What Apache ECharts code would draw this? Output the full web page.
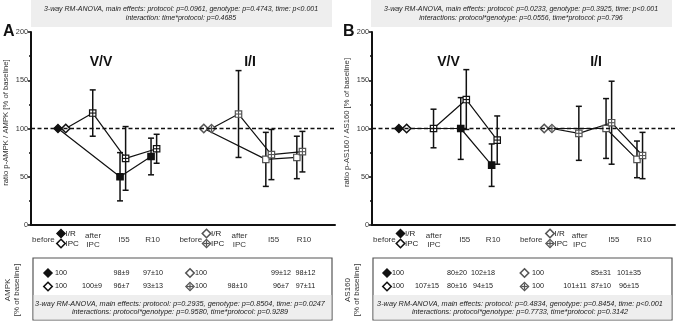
<!DOCTYPE html>
<html>
<head>
<meta charset="utf-8">
<script src="https://cdn.jsdelivr.net/npm/echarts@6/dist/echarts.min.js"></script>
<style>
  html, body { margin: 0; padding: 0; background: #fff; }
  #main { width: 677px; height: 322px; }
</style>
</head>
<body>
<div id="main"></div>
<script>
// x positions (value axis units) of the time points, I/R and IPC slightly shifted
var irPos = [0.87, null, 2.87, 3.87];
var ipcPos = [1.12, 1.99, 3.05, 4.05];
var genoShift = [0, 4.7]; // V/V, I/I

var tickPos = [0.4, 2, 3, 3.92, 5.15, 6.72, 7.82, 8.8];
var tickText = ['before', 'after\nIPC', 'I55', 'R10', 'before', 'after\nIPC', 'I55', 'R10'];

// panel A: ratio p-AMPK / AMPK
var aVvIr = [100, null, 50, 71];
var aVvIrErr = [0, null, 25, 19];
var aVvIpc = [100, 116, 69, 79];
var aVvIpcErr = [0, 24, 33, 15];
var aIiIr = [100, null, 68, 70];
var aIiIrErr = [0, null, 28, 22];
var aIiIpc = [100, 115, 73, 76];
var aIiIpcErr = [0, 45, 26, 21];

// panel B: ratio p-AS160 / AS160
var bVvIr = [100, null, 100, 62];
var bVvIrErr = [0, null, 32, 22];
var bVvIpc = [100, 100, 130, 88];
var bVvIpcErr = [0, 20, 31, 25];
var bIiIr = [100, null, 100, 68];
var bIiIrErr = [0, null, 31, 19];
var bIiIpc = [100, 95, 106, 72];
var bIiIpcErr = [0, 28, 43, 24];

// tables (total protein, % of baseline)
var tblA = [
  ['100', '', '98±9', '97±10'],
  ['100', '100±9', '96±7', '93±13'],
  ['100', '', '99±12', '98±12'],
  ['100', '98±10', '96±7', '97±11']
];
var tblB = [
  ['100', '', '80±20', '102±18'],
  ['100', '107±15', '80±16', '94±15'],
  ['100', '', '85±31', '101±35'],
  ['100', '101±11', '87±10', '96±15']
];

var statTopA = ['3-way RM-ANOVA, main effects: protocol: p=0.0961, genotype: p=0.4743, time: p<0.001',
  'interaction: time*protocol: p=0.4685'];
var statTopB = ['3-way RM-ANOVA, main effects: protocol: p=0.0233, genotype: p=0.3925, time: p<0.001',
  'interactions: protocol*genotype: p=0.0556, time*protocol: p=0.796'];
var statBotA = ['3-way RM-ANOVA, main effects: protocol: p=0.2935, genotype: p=0.8504, time: p=0.0247',
  'interactions: protocol*genotype: p=0.9580, time*protocol: p=0.9289'];
var statBotB = ['3-way RM-ANOVA, main effects: protocol: p=0.4834, genotype: p=0.8454, time: p<0.001',
  'interactions: protocol*genotype: p=0.7733, time*protocol: p=0.3142'];

var FONT = '"Liberation Sans", Arial, sans-serif';
var chart = echarts.init(document.getElementById('main'));

// draw one marker shape at p
function marker(kind, p, col) {
  var x = p[0], y = p[1], out = [];
  var r = 3.2, d = 4.2;
  if (kind == 'fd' || kind == 'od' || kind == 'pd') {
    out.push({ type: 'polygon', shape: { points: [[x, y - d], [x + d, y], [x, y + d], [x - d, y]] },
      style: { fill: kind == 'fd' ? col : '#fff', stroke: col, lineWidth: kind == 'od' ? 1.6 : 1.2 } });
    if (kind == 'pd') {
      out.push({ type: 'line', shape: { x1: x - d + 1, y1: y, x2: x + d - 1, y2: y }, style: { stroke: col, lineWidth: 1.2 } });
      out.push({ type: 'line', shape: { x1: x, y1: y - d + 1, x2: x, y2: y + d - 1 }, style: { stroke: col, lineWidth: 1.2 } });
    }
  } else {
    out.push({ type: 'rect', shape: { x: x - r, y: y - r, width: 2 * r, height: 2 * r },
      style: { fill: kind == 'fs' ? col : '#fff', stroke: col, lineWidth: 1.2 } });
    if (kind == 'ps') {
      out.push({ type: 'line', shape: { x1: x - r, y1: y, x2: x + r, y2: y }, style: { stroke: col, lineWidth: 1.1 } });
      out.push({ type: 'line', shape: { x1: x, y1: y - r, x2: x, y2: y + r }, style: { stroke: col, lineWidth: 1.1 } });
    }
  }
  return out;
}

function pts(pos, shift, vals, errs) {
  var res = [];
  for (var i = 0; i < vals.length; i++) {
    if (vals[i] == null) continue;
    res.push([pos[i] + shift, vals[i], errs[i]]);
  }
  return res;
}

function groupSeries(g, pos, shift, vals, errs, kinds, col) {
  var data = pts(pos, shift, vals, errs);
  var line = {
    type: 'line', xAxisIndex: g, yAxisIndex: g, showSymbol: false, silent: true,
    data: data.map(function (d) { return [d[0], d[1]]; }),
    lineStyle: { color: '#111', width: 1.2 }, z: 2, animation: false
  };
  var marks = {
    type: 'custom', xAxisIndex: g, yAxisIndex: g, data: data, z: 3, animation: false, clip: false,
    renderItem: function (params, api) {
      var xv = api.value(0), yv = api.value(1), e = api.value(2);
      var p = api.coord([xv, yv]);
      var ch = [];
      if (e > 0) {
        var t = api.coord([xv, yv + e]), b = api.coord([xv, yv - e]);
        var st = { stroke: '#111', lineWidth: 1.5 };
        ch.push({ type: 'line', shape: { x1: p[0], y1: t[1], x2: p[0], y2: b[1] }, style: st });
        ch.push({ type: 'line', shape: { x1: p[0] - 3, y1: t[1], x2: p[0] + 3, y2: t[1] }, style: st });
        ch.push({ type: 'line', shape: { x1: p[0] - 3, y1: b[1], x2: p[0] + 3, y2: b[1] }, style: st });
      }
      ch = ch.concat(marker(kinds[params.dataIndex], p, col));
      return { type: 'group', children: ch };
    }
  };
  return [line, marks];
}

function panelSeries(g, vvIr, vvIrE, vvIpc, vvIpcE, iiIr, iiIrE, iiIpc, iiIpcE) {
  var s = [];
  s = s.concat(groupSeries(g, irPos, genoShift[0], vvIr, vvIrE, ['fd', 'fs', 'fs'], '#111'));
  s = s.concat(groupSeries(g, ipcPos, genoShift[0], vvIpc, vvIpcE, ['od', 'ps', 'ps', 'ps'], '#111'));
  s = s.concat(groupSeries(g, irPos, genoShift[1], iiIr, iiIrE, ['od', 'os', 'os'], '#555'));
  s = s.concat(groupSeries(g, ipcPos, genoShift[1], iiIpc, iiIpcE, ['pd', 'ps', 'ps', 'ps'], '#555'));
  s[0].markLine = {
    silent: true, symbol: 'none', label: { show: false },
    lineStyle: { color: '#111', type: [4, 2.5], width: 1.4 },
    data: [{ yAxis: 100 }]
  };
  return s;
}

function xAxisOpt(g) {
  return {
    type: 'value', gridIndex: g, min: 0, max: 9.8,
    axisLine: { lineStyle: { color: '#111', width: 2 } },
    axisTick: { show: false }, splitLine: { show: false },
    axisLabel: {
      customValues: tickPos, margin: 15, verticalAlign: 'middle',
      fontSize: 8, color: '#333', fontFamily: FONT, lineHeight: 9,
      formatter: function (v) {
        var i = tickPos.indexOf(v);
        return i < 0 ? '' : tickText[i];
      }
    }
  };
}

function yAxisOpt(g, name) {
  return {
    type: 'value', gridIndex: g, min: 0, max: 200, interval: 50,
    name: name, nameLocation: 'middle', nameGap: 21,
    nameTextStyle: { fontSize: 7.7, color: '#333', fontFamily: FONT, padding: [0, 0, 0, 12] },
    axisLine: { show: true, lineStyle: { color: '#111', width: 2 } },
    axisTick: { show: true, length: 3, lineStyle: { color: '#111', width: 1.5 } },
    minorTick: { show: true, splitNumber: 2, length: 2, lineStyle: { color: '#111', width: 1.5 } },
    splitLine: { show: false },
    axisLabel: { fontSize: 7.3, color: '#333', margin: 3, fontFamily: FONT }
  };
}

// ---- graphic bits: stat boxes, labels, legends, tables ----
var gr = [];
function txt(x, y, s, o) {
  var st = { text: s, x: x, y: y, fill: '#222', font: '8px ' + FONT, textAlign: 'left', textVerticalAlign: 'middle' };
  for (var k in o) st[k] = o[k];
  gr.push({ type: 'text', style: st, z: 10 });
}
function diamond(cx, cy, kind, col) {
  var ms = marker(kind, [cx, cy], col);
  ms.forEach(function (m) { m.z = 10; gr.push(m); });
}
function statBox(x, y, w, h, lines, cx) {
  gr.push({ type: 'rect', shape: { x: x, y: y, width: w, height: h }, style: { fill: '#eeeeee' }, z: 5 });
  txt(cx, y + h / 2 - 4.4, lines[0], { font: 'italic 7px ' + FONT, textAlign: 'center' });
  txt(cx, y + h / 2 + 4.4, lines[1], { font: 'italic 7px ' + FONT, textAlign: 'center' });
}

function panelDecor(off, letter, geno, legX, iiLegX, tbl, cols, symX, side, top, bot) {
  statBox(off + 31, 0, 301, 27, top, off + 181);
  txt(off + 3, 32, letter, { font: 'bold 16px ' + FONT, fill: '#111' });
  txt(geno[0], 62, 'V/V', { font: 'bold 14px ' + FONT, textAlign: 'center', fill: '#111' });
  txt(geno[1], 62, 'I/I', { font: 'bold 14px ' + FONT, textAlign: 'center', fill: '#111' });
  // legend glyphs next to "before"
  diamond(legX, 233.5, 'fd', '#111'); txt(legX + 4.5, 233.5, 'I/R');
  diamond(legX, 243.5, 'od', '#111'); txt(legX + 4.5, 243.5, 'IPC');
  diamond(iiLegX, 233.5, 'od', '#555'); txt(iiLegX + 4.5, 233.5, 'I/R');
  diamond(iiLegX, 243.5, 'pd', '#555'); txt(iiLegX + 4.5, 243.5, 'IPC');
  // table
  gr.push({ type: 'rect', shape: { x: off + 33, y: 258, width: 299, height: 62 },
    style: { fill: '#fff', stroke: '#555', lineWidth: 1.2 }, z: 5 });
  gr.push({ type: 'rect', shape: { x: off + 33.6, y: 295, width: 297.8, height: 24.4 },
    style: { fill: '#eeeeee' }, z: 6 });
  var rowY = [273, 286.5];
  var kinds = [['fd', 'od'], ['od', 'pd']];
  for (var r = 0; r < 4; r++) {
    var gi = r < 2 ? 0 : 1, ri = r % 2;
    diamond(symX[gi], rowY[ri], kinds[gi][ri], gi ? '#555' : '#111');
    for (var c = 0; c < 4; c++) {
      if (tbl[r][c]) txt(cols[gi][c], rowY[ri], tbl[r][c], { textAlign: c ? 'center' : 'left', font: '7.2px ' + FONT });
    }
  }
  txt(off + 180, 303.5, bot[0], { font: 'italic 7.3px ' + FONT, textAlign: 'center' });
  txt(off + 180, 312, bot[1], { font: 'italic 7.3px ' + FONT, textAlign: 'center' });
  gr.push({ type: 'text', x: off + 12.5, y: 290, rotation: Math.PI / 2,
    style: { text: side, font: '8px ' + FONT, fill: '#333', textAlign: 'center', textVerticalAlign: 'middle', lineHeight: 8.5 }, z: 10 });
}

panelDecor(0, 'A', [101, 250], 61, 206.5, tblA,
  [[55, 92, 121.5, 153], [195, 237.5, 281, 305.5]], [48, 190], 'AMPK\n[% of baseline]', statTopA, statBotA);
panelDecor(340, 'B', [448.5, 596], 400.5, 550, tblB,
  [[392, 427, 457, 483], [532, 575, 601, 629]], [387, 524.5], 'AS160\n[% of baseline]', statTopB, statBotB);

var series = panelSeries(0, aVvIr, aVvIrErr, aVvIpc, aVvIpcErr, aIiIr, aIiIrErr, aIiIpc, aIiIpcErr)
  .concat(panelSeries(1, bVvIr, bVvIrErr, bVvIpc, bVvIpcErr, bIiIr, bIiIrErr, bIiIpc, bIiIpcErr));

chart.setOption({
  animation: false,
  grid: [
    { left: 31, top: 32, width: 304, height: 193 },
    { left: 372, top: 32, width: 303, height: 193 }
  ],
  xAxis: [xAxisOpt(0), xAxisOpt(1)],
  yAxis: [yAxisOpt(0, 'ratio p-AMPK / AMPK [% of baseline]'), yAxisOpt(1, 'ratio p-AS160 / AS160 [% of baseline]')],
  series: series,
  graphic: gr
});
</script>
</body>
</html>
